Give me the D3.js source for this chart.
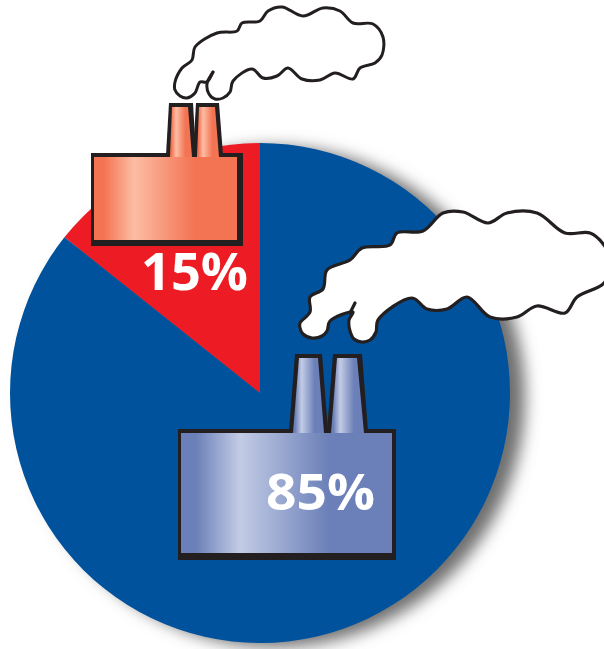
<!DOCTYPE html>
<html>
<head>
<meta charset="utf-8">
<title>15% / 85%</title>
<script src="https://cdn.jsdelivr.net/npm/d3@7"></script>
<style>
  html, body { margin: 0; padding: 0; background: #fff; }
  svg { display: block; filter: blur(0.5px); }
  .share-label { font-family: "Open Sans", sans-serif; fill: #fff; }
</style>
</head>
<body>
<svg id="chart" width="604" height="649"></svg>
<script>
const sliceNames = ["small", "large"];
const sliceValues = [14.3, 85.7];
const sliceLabels = ["15%", "85%"];
const sliceColors = ["#ed1c24", "#00529c"];

const width = 604;
const height = 649;
const center = [260, 393];
const radius = 250;

// Factory drawing, one entry per slice. Outer is the black outline, inner the gradient fill.
const factories = {
  small: {
    gradient: ["#f37453", "#fdbda4"],
    body: { outer: [91, 153, 243, 246], inner: [94, 157, 237, 240] },
    chimneys: [
      { outer: [[169, 103], [193, 103], [196, 155], [166, 155]],
        inner: [[172, 107], [188, 107], [192, 157], [170, 157]] },
      { outer: [[196, 103], [219, 103], [223, 155], [193, 155]],
        inner: [[199, 107], [215, 107], [219, 157], [197, 157]] }
    ],
    label: { x: 141, y: 290, length: 107, size: 52, weight: 700 }
  },
  large: {
    gradient: ["#6b80b8", "#c3cce6"],
    body: { outer: [178, 429, 396, 560], inner: [181, 433, 392, 553] },
    chimneys: [
      { outer: [[295, 354], [322, 354], [328, 431], [289, 431]],
        inner: [[299, 358], [318, 358], [324, 433], [293, 433]] },
      { outer: [[333, 354], [362, 354], [368, 431], [327, 431]],
        inner: [[337, 358], [357, 358], [364, 433], [331, 433]] }
    ],
    label: { x: 266, y: 510, length: 109, size: 51, weight: 700 }
  }
};

const smallCloud = [
  [175, 82], [182, 68], [192, 60], [195, 47], [217, 33], [237, 31], [242, 23], [260, 21],
  [268, 11], [282, 7], [303, 16], [323, 8], [340, 11], [353, 23], [373, 24], [383, 37],
  [382, 55], [375, 63], [360, 68], [353, 79], [335, 73], [320, 80], [302, 79], [288, 68],
  [277, 76], [263, 78], [252, 69], [233, 81], [230, 92], [223, 98], [215, 99], [209, 94],
  [207, 84], [213, 72], [207, 82], [200, 82], [195, 93], [187, 98], [180, 96], [175, 90]
];
const smallCloudCrease = [[213, 72], [207, 82]];

const bigCloud = [
  [300, 323], [310, 312], [310, 297], [323, 289], [327, 270], [350, 260], [362, 248], [390, 245],
  [397, 233], [423, 231], [443, 213], [463, 212], [488, 223], [507, 213], [537, 213], [565, 233],
  [590, 233], [604, 245], [612, 263], [604, 283], [577, 297], [565, 313], [537, 306], [517, 317],
  [490, 317], [467, 297], [447, 309], [427, 309], [412, 298], [378, 320], [376, 332], [370, 340],
  [362, 342], [354, 339], [350, 331], [349, 320], [353, 312], [330, 321], [327, 331], [322, 336],
  [312, 338], [303, 334], [300, 328]
];
const bigCloudCrease = [[355, 303], [350, 313]];

function addGradient(defs, id, colors) {
  const grad = defs.append("linearGradient")
    .attr("id", id)
    .attr("x1", 0).attr("x2", 1)
    .attr("y1", 0).attr("y2", 0);

  [[0, colors[0]], [0.07, colors[0]], [0.28, colors[1]], [0.7, colors[0]], [1, colors[0]]]
    .forEach(function (stop) {
      grad.append("stop")
        .attr("offset", stop[0])
        .attr("stop-color", stop[1]);
    });
}

function drawFactory(svg, spec, gradientId) {
  const g = svg.append("g");
  const outline = "#231f20";

  g.selectAll(".chimney-outer")
    .data(spec.chimneys)
    .enter()
    .append("polygon")
    .attr("points", function (d) { return d.outer.join(" "); })
    .attr("fill", outline);

  g.append("rect")
    .attr("x", spec.body.outer[0])
    .attr("y", spec.body.outer[1])
    .attr("width", spec.body.outer[2] - spec.body.outer[0])
    .attr("height", spec.body.outer[3] - spec.body.outer[1])
    .attr("fill", outline);

  g.append("rect")
    .attr("x", spec.body.inner[0])
    .attr("y", spec.body.inner[1])
    .attr("width", spec.body.inner[2] - spec.body.inner[0])
    .attr("height", spec.body.inner[3] - spec.body.inner[1])
    .attr("fill", `url(#${gradientId})`);

  g.selectAll(".chimney-inner")
    .data(spec.chimneys)
    .enter()
    .append("polygon")
    .attr("points", function (d) { return d.inner.join(" "); })
    .attr("fill", `url(#${gradientId})`);
}

function drawCloud(svg, points, crease, strokeWidth) {
  const outline = d3.line().curve(d3.curveCatmullRomClosed.alpha(0.5));

  svg.append("path")
    .attr("d", outline(points))
    .attr("fill", "#fff")
    .attr("stroke", "#231f20")
    .attr("stroke-width", strokeWidth)
    .attr("stroke-linejoin", "round");

  svg.append("path")
    .attr("d", d3.line()(crease))
    .attr("fill", "none")
    .attr("stroke", "#231f20")
    .attr("stroke-width", strokeWidth)
    .attr("stroke-linecap", "round");
}

function drawChart() {
  const svg = d3.select("#chart")
    .attr("viewBox", `0 0 ${width} ${height}`);

  const defs = svg.append("defs");

  defs.append("filter")
    .attr("id", "pie-shadow")
    .attr("x", "-20%").attr("y", "-20%")
    .attr("width", "140%").attr("height", "140%")
    .append("feGaussianBlur")
    .attr("stdDeviation", 8);

  sliceNames.forEach(function (name) {
    addGradient(defs, "grad-" + name, factories[name].gradient);
  });

  // Shadow sits right and slightly below the pie
  svg.append("circle")
    .attr("cx", center[0] + 15)
    .attr("cy", center[1] + 4)
    .attr("r", radius)
    .attr("fill", "#6e6e6e")
    .attr("filter", "url(#pie-shadow)");

  // The small slice ends at twelve o'clock, so start the pie before zero
  const total = d3.sum(sliceValues);
  const start = -2 * Math.PI * sliceValues[0] / total;
  const pie = d3.pie()
    .sort(null)
    .startAngle(start)
    .endAngle(start + 2 * Math.PI);
  const arc = d3.arc().innerRadius(0).outerRadius(radius);

  svg.append("g")
    .attr("transform", `translate(${center[0]},${center[1]})`)
    .selectAll("path")
    .data(pie(sliceValues))
    .enter()
    .append("path")
    .attr("d", arc)
    .attr("fill", function (d, i) { return sliceColors[i]; });

  sliceNames.forEach(function (name) {
    drawFactory(svg, factories[name], "grad-" + name);
  });

  drawCloud(svg, smallCloud, smallCloudCrease, 3);
  drawCloud(svg, bigCloud, bigCloudCrease, 3.2);

  sliceNames.forEach(function (name, i) {
    const label = factories[name].label;
    svg.append("text")
      .attr("class", "share-label")
      .attr("x", label.x)
      .attr("y", label.y)
      .attr("font-size", label.size)
      .attr("font-weight", label.weight)
      .attr("textLength", label.length)
      .attr("lengthAdjust", "spacingAndGlyphs")
      .text(sliceLabels[i]);
  });
}

document.addEventListener("DOMContentLoaded", drawChart);
</script>
</body>
</html>
